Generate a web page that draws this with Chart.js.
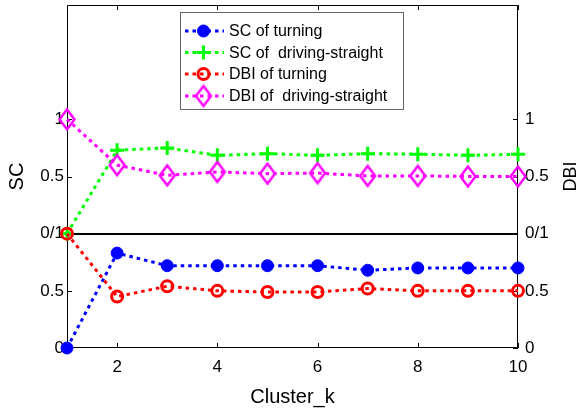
<!DOCTYPE html>
<html>
<head>
<meta charset="utf-8">
<script src="https://cdn.jsdelivr.net/npm/chart.js@4/dist/chart.umd.min.js"></script>
<style>
  html, body { margin: 0; padding: 0; background: #fff; }
  #wrap { width: 577px; height: 411px; }
</style>
</head>
<body>
<div id="wrap"><canvas id="clusterChart" width="577" height="411"></canvas></div>
<script>
// cluster counts on the x axis
const clusterK = [1, 2, 3, 4, 5, 6, 7, 8, 9, 10];

// lower band (0..1): turning
const scTurning  = [0, 0.83, 0.72, 0.72, 0.72, 0.72, 0.68, 0.70, 0.70, 0.70];
const dbiTurning = [1, 0.45, 0.54, 0.50, 0.49, 0.49, 0.52, 0.50, 0.50, 0.50];

// upper band (1..2): driving-straight, stacked on top of the turning band
const scStraight  = [0, 0.73, 0.75, 0.685, 0.70, 0.685, 0.70, 0.695, 0.685, 0.695];
const dbiStraight = [1, 0.60, 0.51, 0.54, 0.525, 0.53, 0.505, 0.505, 0.50, 0.50];
const upperOffset = 1;

// tick positions and the labels shown for them
const xTickVals = [2, 4, 6, 8, 10];
const yTickVals = [0, 0.5, 1, 1.5, 2];
const yTickLabels = ['0', '0.5', '0/1', '0.5', '1'];

const FONT = 'Arial, "Liberation Sans", Helvetica, sans-serif';

function pts(values, offset) {
    return values.map((v, i) => ({ x: clusterK[i], y: v + offset }));
}

// open diamond marker, a little taller than wide
function diamondMarker(color, w, h, lw) {
    const c = document.createElement('canvas');
    c.width = w + lw * 2;
    c.height = h + lw * 2;
    const g = c.getContext('2d');
    const cx = c.width / 2, cy = c.height / 2;
    g.strokeStyle = color;
    g.lineWidth = lw;
    g.lineJoin = 'miter';
    g.beginPath();
    g.moveTo(cx, cy - h / 2);
    g.lineTo(cx + w / 2, cy);
    g.lineTo(cx, cy + h / 2);
    g.lineTo(cx - w / 2, cy);
    g.closePath();
    g.stroke();
    return c;
}

const dotted = [3.5, 4];

const datasets = [
    {
        label: 'SC of turning',
        data: pts(scTurning, 0),
        borderColor: '#0000ff',
        backgroundColor: '#0000ff',
        pointStyle: 'circle',
        pointRadius: 6,
        pointBorderWidth: 1,
        order: 4
    },
    {
        label: 'SC of  driving-straight',
        data: pts(scStraight, upperOffset),
        borderColor: '#00ff00',
        backgroundColor: '#00ff00',
        pointStyle: 'cross',
        pointRadius: 7,
        pointBorderWidth: 3,
        order: 3
    },
    {
        label: 'DBI of turning',
        data: pts(dbiTurning, 0),
        borderColor: '#ff0000',
        backgroundColor: 'rgba(255,255,255,0)',
        pointStyle: 'circle',
        pointRadius: 5.5,
        pointBorderWidth: 3,
        order: 2
    },
    {
        label: 'DBI of  driving-straight',
        data: pts(dbiStraight, upperOffset),
        borderColor: '#ff00ff',
        backgroundColor: 'rgba(255,255,255,0)',
        pointStyle: diamondMarker('#ff00ff', 15, 20, 2.5),
        pointRadius: 9,
        pointBorderWidth: 2.5,
        order: 1
    }
].map(ds => Object.assign({
    borderWidth: 3,
    borderDash: dotted,
    borderCapStyle: 'butt',
    fill: false,
    tension: 0,
    clip: false,
    pointHoverRadius: ds.pointRadius
}, ds));

// box, inward ticks and the 0/1 divider, drawn under the data
const axesFrame = {
    id: 'axesFrame',
    beforeDatasetsDraw(chart) {
        const { ctx, chartArea: a, scales } = chart;
        const x = scales.x, y = scales.y;
        const tick = 5;
        ctx.save();
        ctx.strokeStyle = '#000';
        ctx.lineWidth = 1;
        ctx.beginPath();
        ctx.rect(a.left + 0.5, a.top + 0.5, a.right - a.left - 1, a.bottom - a.top - 1);
        xTickVals.forEach(v => {
            const px = Math.round(x.getPixelForValue(v)) + 0.5;
            ctx.moveTo(px, a.bottom); ctx.lineTo(px, a.bottom - tick);
            ctx.moveTo(px, a.top); ctx.lineTo(px, a.top + tick);
        });
        yTickVals.forEach(v => {
            const py = Math.round(y.getPixelForValue(v)) + 0.5;
            ctx.moveTo(a.left, py); ctx.lineTo(a.left + tick, py);
            ctx.moveTo(a.right, py); ctx.lineTo(a.right - tick, py);
        });
        ctx.stroke();
        // divider between the two bands
        const py = Math.round(y.getPixelForValue(upperOffset));
        ctx.lineWidth = 2;
        ctx.beginPath();
        ctx.moveTo(a.left, py); ctx.lineTo(a.right, py);
        ctx.stroke();
        ctx.restore();
    }
};

// right axis title, reading upward like the left one
const rightTitle = {
    id: 'rightTitle',
    afterDraw(chart) {
        const { ctx, chartArea: a } = chart;
        ctx.save();
        ctx.translate(571, (a.top + a.bottom) / 2);
        ctx.rotate(-Math.PI / 2);
        ctx.font = '18px ' + FONT;
        ctx.fillStyle = '#000';
        ctx.textAlign = 'center';
        ctx.textBaseline = 'middle';
        ctx.fillText('DBI', 0, 0);
        ctx.restore();
    }
};

// boxed legend with a line sample and marker per series
const boxLegend = {
    id: 'boxLegend',
    afterDraw(chart) {
        const { ctx } = chart;
        const box = { x: 180.5, y: 12.5, w: 223, h: 97 };
        const rowY = [31, 52.5, 74, 96];
        ctx.save();
        ctx.fillStyle = '#fff';
        ctx.strokeStyle = '#666';
        ctx.lineWidth = 1;
        ctx.fillRect(box.x, box.y, box.w, box.h);
        ctx.strokeRect(box.x, box.y, box.w, box.h);
        chart.data.datasets.forEach((ds, i) => {
            const cy = rowY[i];
            ctx.save();
            ctx.strokeStyle = ds.borderColor;
            ctx.lineWidth = ds.borderWidth;
            ctx.setLineDash(ds.borderDash);
            ctx.beginPath();
            ctx.moveTo(185, cy); ctx.lineTo(224, cy);
            ctx.stroke();
            ctx.setLineDash([]);
            ctx.fillStyle = ds.backgroundColor;
            ctx.lineWidth = ds.pointBorderWidth;
            Chart.helpers.drawPoint(ctx, {
                pointStyle: ds.pointStyle,
                radius: ds.pointRadius,
                rotation: 0,
                borderWidth: ds.pointBorderWidth
            }, 203.5, cy);
            ctx.restore();
            ctx.fillStyle = '#000';
            ctx.font = '16px ' + FONT;
            ctx.textBaseline = 'middle';
            ctx.fillText(ds.label, 229, cy + 1);
        });
        ctx.restore();
    }
};

const tickFont = { family: FONT, size: 17 };

// fixed axis sizes so the plot box sits where it should
function fitY(width) {
    return s => { s.width = width; s.paddingTop = 0; s.paddingBottom = 0; };
}

new Chart(document.getElementById('clusterChart').getContext('2d'), {
    type: 'line',
    data: { datasets },
    plugins: [axesFrame, rightTitle, boxLegend],
    options: {
        responsive: false,
        devicePixelRatio: 1,
        animation: false,
        layout: { autoPadding: false, padding: { top: 5, left: 0, right: 0, bottom: 0 } },
        plugins: {
            legend: { display: false },
            tooltip: { enabled: false }
        },
        scales: {
            x: {
                type: 'linear',
                position: 'bottom',
                min: 1,
                max: 10,
                afterBuildTicks: s => { s.ticks = xTickVals.map(v => ({ value: v })); },
                afterFit: s => { s.height = 63; s.paddingLeft = 0; s.paddingRight = 0; },
                grid: { display: false, drawTicks: false },
                border: { display: false },
                ticks: { color: '#000', font: tickFont, padding: 9, maxRotation: 0, autoSkip: false },
                title: {
                    display: true,
                    text: 'Cluster_k',
                    color: '#000',
                    font: { family: FONT, size: 20 },
                    padding: { top: 0, bottom: 2 }
                }
            },
            y: {
                position: 'left',
                min: 0,
                max: 3,
                afterBuildTicks: s => { s.ticks = yTickVals.map(v => ({ value: v })); },
                afterFit: fitY(67),
                grid: { display: false, drawTicks: false },
                border: { display: false },
                ticks: {
                    color: '#000',
                    font: tickFont,
                    padding: 3,
                    autoSkip: false,
                    callback: (v, i) => yTickLabels[i]
                },
                title: {
                    display: true,
                    text: 'SC',
                    color: '#000',
                    font: { family: FONT, size: 20 },
                    padding: { top: 5, bottom: 0 }
                }
            },
            y2: {
                position: 'right',
                min: 0,
                max: 3,
                afterBuildTicks: s => { s.ticks = yTickVals.map(v => ({ value: v })); },
                afterFit: fitY(59),
                grid: { display: false, drawTicks: false },
                border: { display: false },
                ticks: {
                    color: '#000',
                    font: tickFont,
                    padding: 7,
                    autoSkip: false,
                    callback: (v, i) => yTickLabels[i]
                }
            }
        }
    }
});
</script>
</body>
</html>
